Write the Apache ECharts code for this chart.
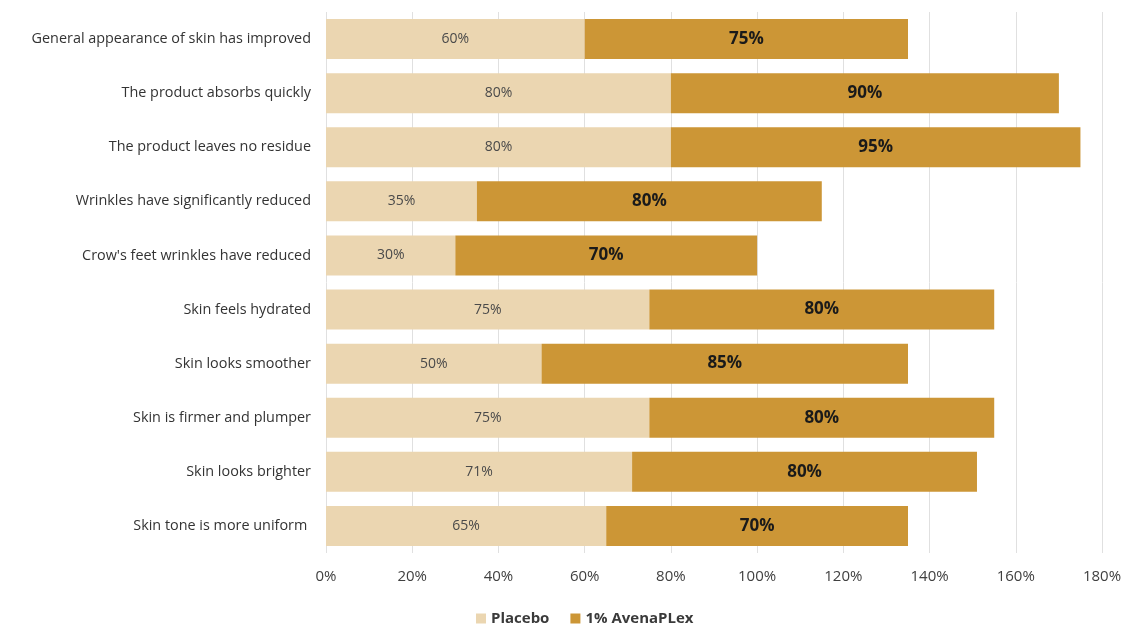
<!DOCTYPE html>
<html>
<head>
<meta charset="utf-8">
<script src="https://cdn.jsdelivr.net/npm/echarts@6/dist/echarts.min.js"></script>
<style>
  html, body { margin: 0; padding: 0; background: #fff; }
  #chart { width: 1148px; height: 627px; }
</style>
</head>
<body>
<div id="chart"></div>
<script>
// Survey statements, top to bottom
const categories = [
  'General appearance of skin has improved',
  'The product absorbs quickly',
  'The product leaves no residue',
  'Wrinkles have significantly reduced',
  "Crow's feet wrinkles have reduced",
  'Skin feels hydrated',
  'Skin looks smoother',
  'Skin is firmer and plumper',
  'Skin looks brighter',
  'Skin tone is more uniform '
];
// Percent of panel agreeing
const placebo = [60, 80, 80, 35, 30, 75, 50, 75, 71, 65];
const avenaplex = [75, 90, 95, 80, 70, 80, 85, 80, 80, 70];
const seriesNames = ['Placebo', '1% AvenaPLex'];

const font = '"Open Sans", "Noto Sans", sans-serif';
const chart = echarts.init(document.getElementById('chart'), null, { renderer: 'canvas' });

chart.setOption({
  animation: false,
  textStyle: { fontFamily: font },
  grid: { left: 326, right: 46, top: 12, bottom: 74 },
  legend: {
    top: 606,
    left: 471,
    itemWidth: 10,
    itemHeight: 10,
    itemGap: 21,
    icon: 'rect',
    textStyle: { fontFamily: font, fontSize: 15, fontWeight: 'bold', color: '#3a3a3a' },
    data: seriesNames
  },
  xAxis: {
    type: 'value',
    min: 0,
    max: 180,
    interval: 20,
    axisLine: { show: false },
    axisTick: { show: false },
    axisLabel: {
      formatter: '{value}%',
      fontFamily: font,
      fontSize: 15,
      color: '#404040',
      margin: 16
    },
    splitLine: { lineStyle: { color: '#e0e0e0', width: 1 } }
  },
  yAxis: {
    type: 'category',
    inverse: true,
    data: categories,
    axisLine: { show: false },
    axisTick: { show: false },
    axisLabel: {
      fontFamily: font,
      fontSize: 14.4,
      color: '#333',
      margin: 15
    }
  },
  series: [
    {
      name: seriesNames[0],
      type: 'bar',
      stack: 'total',
      barWidth: '74%',
      data: placebo,
      itemStyle: { color: '#ebd6b1' },
      label: {
        show: true,
        position: 'inside',
        formatter: '{c}%',
        fontFamily: font,
        fontSize: 14,
        color: '#4a4a4a'
      }
    },
    {
      name: seriesNames[1],
      type: 'bar',
      stack: 'total',
      barWidth: '74%',
      data: avenaplex,
      itemStyle: { color: '#cc9636' },
      label: {
        show: true,
        position: 'inside',
        formatter: '{c}%',
        fontFamily: font,
        fontSize: 17,
        fontWeight: 'bold',
        color: '#1a1a1a'
      }
    }
  ]
});
</script>
</body>
</html>
